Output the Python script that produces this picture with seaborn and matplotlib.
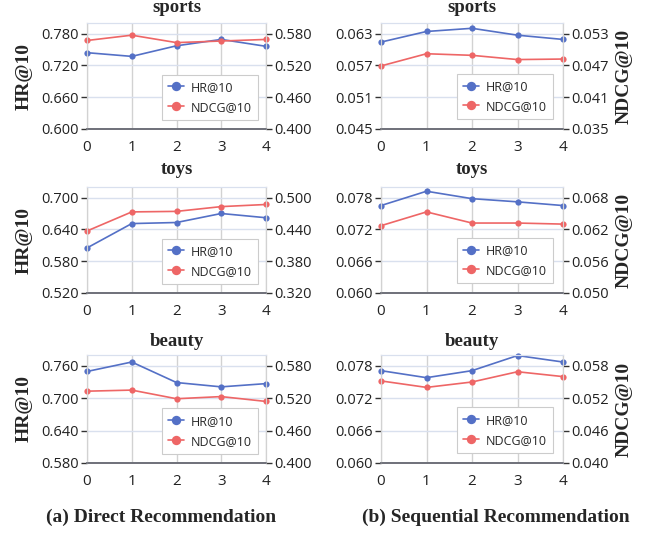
import matplotlib

matplotlib.use("Agg")
import matplotlib.pyplot as plt  # noqa: E402
import seaborn as sns  # noqa: E402

STEPS = [0, 1, 2, 3, 4]

# (a) direct recommendation
direct_sports_hr = [0.744, 0.737, 0.757, 0.769, 0.756]
direct_sports_ndcg = [0.567, 0.577, 0.563, 0.566, 0.569]
direct_toys_hr = [0.605, 0.651, 0.653, 0.670, 0.662]
direct_toys_ndcg = [0.437, 0.473, 0.474, 0.483, 0.487]
direct_beauty_hr = [0.7495, 0.767, 0.729, 0.721, 0.727]
direct_beauty_ndcg = [0.533, 0.535, 0.519, 0.523, 0.514]

# (b) sequential recommendation
seq_sports_hr = [0.0614, 0.0634, 0.0640, 0.0627, 0.0619]
seq_sports_ndcg = [0.0469, 0.0492, 0.0489, 0.0481, 0.0482]
seq_toys_hr = [0.0765, 0.0792, 0.0778, 0.0772, 0.0765]
seq_toys_ndcg = [0.0627, 0.0653, 0.0632, 0.0632, 0.0630]
seq_beauty_hr = [0.0771, 0.0758, 0.0771, 0.0799, 0.0787]
seq_beauty_ndcg = [0.0552, 0.0540, 0.0550, 0.0569, 0.0560]

# y ticks (left = HR@10, right = NDCG@10)
direct_sports_ticks = ([0.60, 0.66, 0.72, 0.78], [0.40, 0.46, 0.52, 0.58])
direct_toys_ticks = ([0.52, 0.58, 0.64, 0.70], [0.32, 0.38, 0.44, 0.50])
direct_beauty_ticks = ([0.58, 0.64, 0.70, 0.76], [0.40, 0.46, 0.52, 0.58])
seq_sports_ticks = ([0.045, 0.051, 0.057, 0.063], [0.035, 0.041, 0.047, 0.053])
seq_toys_ticks = ([0.060, 0.066, 0.072, 0.078], [0.050, 0.056, 0.062, 0.068])
seq_beauty_ticks = ([0.060, 0.066, 0.072, 0.078], [0.040, 0.046, 0.052, 0.058])

BLUE = "#5470c6"
RED = "#ee6666"
SANS = "Open Sans"
SERIF = "Liberation Serif"
W, H = 657, 533


def px_axes(fig, left, top, right, bottom):
    return fig.add_axes([left / W, 1 - bottom / H, (right - left) / W, (bottom - top) / H])


def lim_from(ticks):
    return ticks[0], ticks[0] + (ticks[-1] - ticks[0]) * 10 / 9


def draw_panel(ax, hr, ndcg, ticks, anchor):
    ax2 = ax.twinx()
    sns.lineplot(x=STEPS, y=hr, ax=ax, color=BLUE, marker="o", markersize=4.5,
                 markeredgewidth=0, linewidth=1.2, label="HR@10", clip_on=False)
    sns.lineplot(x=STEPS, y=ndcg, ax=ax2, color=RED, marker="o", markersize=4.5,
                 markeredgewidth=0, linewidth=1.2, label="NDCG@10", clip_on=False)
    ax.set_xlim(0, 4)
    ax.set_xticks(STEPS)
    ax.set_ylim(*lim_from(ticks[0]))
    ax2.set_ylim(*lim_from(ticks[1]))
    ax.set_yticks(ticks[0])
    ax2.set_yticks(ticks[1])
    fmt = "{:.3f}"
    ax.set_yticklabels([fmt.format(t) for t in ticks[0]])
    ax2.set_yticklabels([fmt.format(t) for t in ticks[1]])
    ax.set_xlabel("")
    ax.set_ylabel("")
    ax2.set_ylabel("")

    ax.grid(axis="y", color="#d9e0ee", linewidth=1)
    ax.grid(axis="x", color="#d2d2d2", linewidth=1)
    ax.set_axisbelow(True)
    for a in (ax, ax2):
        a.spines["bottom"].set_color("#6e7079")
        a.spines["bottom"].set_linewidth(1.2)
        a.spines["top"].set_color("#d9e0ee")
        a.spines["left"].set_color("#d2d2d2")
        a.spines["right"].set_color("#d2d2d2")
        a.tick_params(axis="y", length=4, width=1, color="#333333", pad=2,
                      labelsize=10.5, labelcolor="#222222")
        a.tick_params(axis="x", length=0, pad=8, labelsize=11, labelcolor="#222222")
        for lbl in a.get_xticklabels() + a.get_yticklabels():
            lbl.set_fontfamily(SANS)

    h1, l1 = ax.get_legend_handles_labels()
    h2, l2 = ax2.get_legend_handles_labels()
    if ax.get_legend():
        ax.get_legend().remove()
    leg = ax2.legend(h1 + h2, l1 + l2, loc="lower right", bbox_to_anchor=anchor,
                     borderaxespad=0, fancybox=False, edgecolor="#cccccc",
                     framealpha=1, markerscale=1.5, handlelength=1.3,
                     labelspacing=0.55, borderpad=0.5, handletextpad=0.5,
                     prop={"family": SANS, "size": 9})
    leg.get_frame().set_linewidth(0.8)
    return ax2


sns.set_style("white")
plt.rcParams["font.family"] = [SANS, "DejaVu Sans"]

fig = plt.figure(figsize=(W / 100, H / 100), dpi=100)

LEFT_X = (87, 266)
RIGHT_X = (381, 563)
ROWS_Y = [(23, 129), (187, 293), (355, 463)]

direct = [
    ("sports", direct_sports_hr, direct_sports_ndcg, direct_sports_ticks),
    ("toys", direct_toys_hr, direct_toys_ndcg, direct_toys_ticks),
    ("beauty", direct_beauty_hr, direct_beauty_ndcg, direct_beauty_ticks),
]
sequential = [
    ("sports", seq_sports_hr, seq_sports_ndcg, seq_sports_ticks),
    ("toys", seq_toys_hr, seq_toys_ndcg, seq_toys_ticks),
    ("beauty", seq_beauty_hr, seq_beauty_ndcg, seq_beauty_ticks),
]
title_y = [8, 169, 341]

for (name, hr, ndcg, ticks), (top, bottom), ty in zip(direct, ROWS_Y, title_y):
    ax = px_axes(fig, LEFT_X[0], top, LEFT_X[1], bottom)
    draw_panel(ax, hr, ndcg, ticks, (0.955, 0.085))
    fig.text((LEFT_X[0] + LEFT_X[1]) / 2 / W, 1 - ty / H, name, ha="center", va="center",
             family=SERIF, weight="bold", size=13.5)
    fig.text(24 / W, 1 - (top + bottom) / 2 / H, "HR@10", rotation=90, ha="center",
             va="center", family=SERIF, weight="bold", size=14)

for (name, hr, ndcg, ticks), (top, bottom), ty in zip(sequential, ROWS_Y, title_y):
    ax = px_axes(fig, RIGHT_X[0], top, RIGHT_X[1], bottom)
    draw_panel(ax, hr, ndcg, ticks, (0.945, 0.094))
    fig.text((RIGHT_X[0] + RIGHT_X[1]) / 2 / W, 1 - ty / H, name, ha="center", va="center",
             family=SERIF, weight="bold", size=13.5)
    fig.text(624 / W, 1 - (top + bottom) / 2 / H, "NDCG@10", rotation=90, ha="center",
             va="center", family=SERIF, weight="bold", size=14)

fig.text(161 / W, 1 - 517 / H, "(a) Direct Recommendation", ha="center", va="center",
         family=SERIF, weight="bold", size=14)
fig.text(496 / W, 1 - 517 / H, "(b) Sequential Recommendation", ha="center", va="center",
         family=SERIF, weight="bold", size=14)

fig.savefig("out.png", dpi=100, facecolor="white")
